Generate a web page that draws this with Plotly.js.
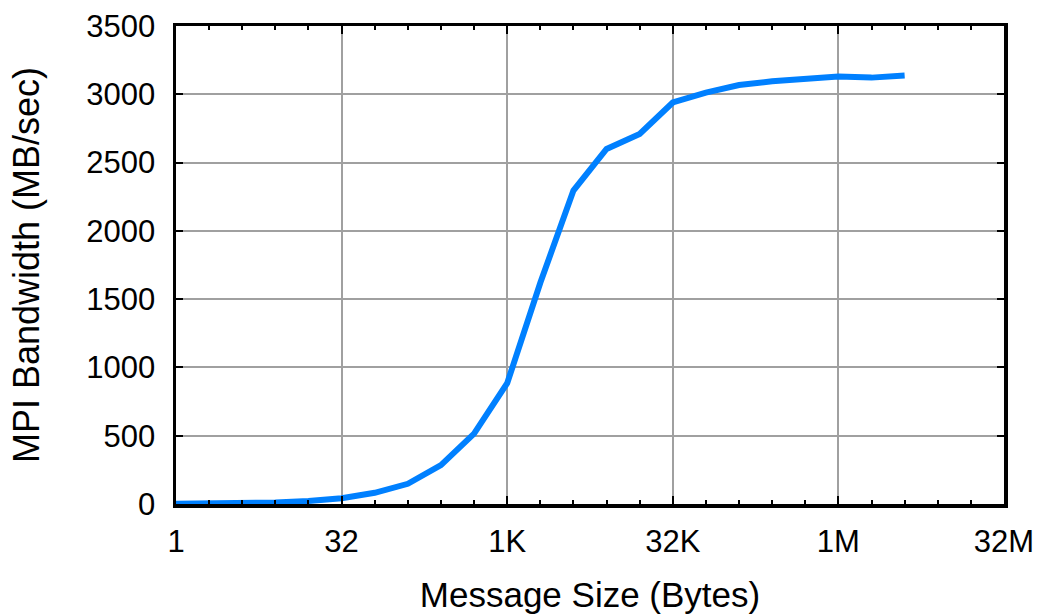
<!DOCTYPE html>
<html>
<head>
<meta charset="utf-8">
<script src="https://cdn.plot.ly/plotly-3.0.1.min.js"></script>
<style>
  html, body { margin: 0; padding: 0; background: #fff; }
  #chart { width: 1039px; height: 614px; }
</style>
</head>
<body>
<div id="chart"></div>
<script>
// Message sizes in bytes (powers of two, 1 B .. 4 MB)
const messageSizes = [1, 2, 4, 8, 16, 32, 64, 128, 256, 512, 1024, 2048, 4096, 8192,
  16384, 32768, 65536, 131072, 262144, 524288, 1048576, 2097152, 4194304];

// Measured MPI bandwidth in MB/sec for each message size
const bandwidth = [2, 3, 6, 11, 22, 42, 82, 148, 285, 515, 885, 1620, 2295, 2600,
  2710, 2940, 3012, 3068, 3095, 3112, 3130, 3122, 3138];

// Labelled x ticks
const xTickVals = [1, 32, 1024, 32768, 1048576, 33554432];
const xTickText = ['1', '32', '1K', '32K', '1M', '32M'];

// Minor ticks at every doubling
const xMinorVals = [1, 2, 4, 8, 16, 32, 64, 128, 256, 512, 1024, 2048, 4096, 8192,
  16384, 32768, 65536, 131072, 262144, 524288, 1048576, 2097152, 4194304,
  8388608, 16777216, 33554432];

const fontFamily = '"Liberation Sans", Arial, Helvetica, sans-serif';

const trace = {
  x: messageSizes,
  y: bandwidth,
  type: 'scatter',
  mode: 'lines',
  line: { color: '#0080ff', width: 6 },
  hoverinfo: 'x+y'
};

const layout = {
  width: 1039,
  height: 614,
  margin: { l: 176, r: 35, t: 26, b: 110 },
  paper_bgcolor: '#ffffff',
  plot_bgcolor: '#ffffff',
  showlegend: false,
  font: { family: fontFamily, color: '#000', size: 31 },
  xaxis: {
    type: 'log',
    range: [0, Math.log10(33554432)],
    tickmode: 'array',
    tickvals: xTickVals,
    ticktext: xTickText,
    ticks: 'inside',
    ticklen: 8,
    tickwidth: 2,
    tickcolor: '#000',
    ticklabelstandoff: 7,
    tickfont: { family: fontFamily, size: 31, color: '#000' },
    minor: {
      tickmode: 'array',
      tickvals: xMinorVals,
      ticks: 'inside',
      ticklen: 4,
      tickwidth: 2,
      tickcolor: '#000',
      showgrid: false
    },
    showgrid: true,
    gridcolor: '#a0a0a0',
    gridwidth: 2,
    showline: true,
    linecolor: '#000',
    linewidth: 3.5,
    mirror: 'ticks',
    zeroline: false,
    title: {
      text: 'Message Size (Bytes)',
      font: { family: fontFamily, size: 35, color: '#000' },
      standoff: 27
    }
  },
  yaxis: {
    range: [0, 3500],
    tickmode: 'linear',
    tick0: 0,
    dtick: 500,
    ticks: 'inside',
    ticklen: 7,
    tickwidth: 2,
    tickcolor: '#000',
    ticklabelstandoff: 11,
    tickfont: { family: fontFamily, size: 31, color: '#000' },
    showgrid: true,
    gridcolor: '#a0a0a0',
    gridwidth: 2,
    showline: true,
    linecolor: '#000',
    linewidth: 3.5,
    mirror: 'ticks',
    zeroline: false,
    title: {
      text: 'MPI Bandwidth (MB/sec)',
      font: { family: fontFamily, size: 36, color: '#000' },
      standoff: 36
    }
  }
};

Plotly.newPlot('chart', [trace], layout, { displayModeBar: false, staticPlot: true });
</script>
</body>
</html>
